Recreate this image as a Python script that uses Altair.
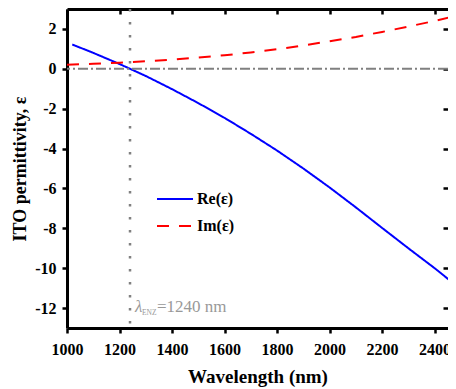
import altair as alt
import pandas as pd

# ---- data ----
wavelength_re = [1020, 1100, 1200, 1300, 1400, 1500, 1600, 1700, 1800, 1900,
                 2000, 2100, 2200, 2300, 2400, 2490]
re_eps = [1.22, 0.80, 0.24, -0.36, -1.02, -1.72, -2.46, -3.26, -4.10, -5.00,
          -5.95, -6.95, -7.98, -9.00, -10.00, -10.95]

wavelength_im = [1000, 1100, 1200, 1300, 1400, 1500, 1600, 1700, 1800, 1900,
                 2000, 2100, 2200, 2300, 2400, 2490]
im_eps = [0.20, 0.25, 0.31, 0.38, 0.46, 0.56, 0.68, 0.82, 0.98, 1.17,
          1.38, 1.60, 1.85, 2.12, 2.40, 2.68]

series_names = ["Re(ε)", "Im(ε)"]
series_colors = ["#0000ff", "#ff0000"]
x_ticks = [1000, 1200, 1400, 1600, 1800, 2000, 2200, 2400]
y_ticks = [-12, -10, -8, -6, -4, -2, 0, 2]
x_domain = [1000, 2451]
y_domain = [-13, 3]
enz_wavelength = 1240
enz_label_y = -12.2

rows = []
for w, v in zip(wavelength_re, re_eps):
    rows.append({"wl": w, "val": v, "series": series_names[0]})
for w, v in zip(wavelength_im, im_eps):
    rows.append({"wl": w, "val": v, "series": series_names[1]})
df = pd.DataFrame(rows)

font = "Liberation Serif, Times New Roman, serif"
x_scale = alt.Scale(domain=x_domain, nice=False, zero=False)
y_scale = alt.Scale(domain=y_domain, nice=False, zero=False)

legend = alt.Legend(
    title=None, orient="none", legendX=89, legendY=171,
    symbolType="stroke", symbolSize=1296, symbolStrokeWidth=2,
    labelFont=font, labelFontWeight="bold", labelFontSize=16, labelColor="black",
    labelOffset=3, rowPadding=-6, padding=0,
)

lines = alt.Chart(df).mark_line(strokeWidth=2, clip=True).encode(
    x=alt.X("wl:Q", scale=x_scale, axis=alt.Axis(
        orient="bottom", values=x_ticks, title="Wavelength (nm)",
        labelExpr="'' + datum.value", grid=False, labelFlush=False,
        domain=True, domainColor="black", domainWidth=3,
        tickSize=5, tickWidth=2.5, tickColor="black",
        labelFont=font, labelFontWeight="bold", labelFontSize=16, labelColor="black",
        labelPadding=8,
        titleFont=font, titleFontWeight="bold", titleFontSize=19, titleColor="black",
        titlePadding=10)),
    y=alt.Y("val:Q", scale=y_scale, axis=alt.Axis(
        orient="left", values=y_ticks, title="ITO permittivity, ε",
        labelExpr="'' + datum.value", grid=False, labelFlush=False,
        domain=True, domainColor="black", domainWidth=3,
        tickSize=5, tickWidth=2.5, tickColor="black",
        labelFont=font, labelFontWeight="bold", labelFontSize=16, labelColor="black",
        labelPadding=6,
        titleFont=font, titleFontWeight="bold", titleFontSize=18, titleColor="black",
        titlePadding=5)),
    color=alt.Color("series:N", scale=alt.Scale(domain=series_names, range=series_colors),
                    legend=legend),
    strokeDash=alt.StrokeDash("series:N",
                              scale=alt.Scale(domain=series_names, range=[[1, 0], [12, 10]]),
                              legend=legend),
)

# vertical ENZ marker, carries the inward top ticks
vline = alt.Chart(pd.DataFrame({"x": [enz_wavelength]})).mark_rule(
    color="#808080", strokeWidth=2.5, strokeDash=[2.5, 10.5]
).encode(
    x=alt.X("x:Q", scale=x_scale, axis=alt.Axis(
        orient="top", values=x_ticks, labels=False, title=None, domain=False,
        grid=False, tickSize=5, tickWidth=2.5, tickColor="black", offset=-5)),
)

# zero line, carries the inward right ticks
hline = alt.Chart(pd.DataFrame({"y": [0]})).mark_rule(
    color="#808080", strokeWidth=2, strokeDash=[10, 3, 2, 3]
).encode(
    y=alt.Y("y:Q", scale=y_scale, axis=alt.Axis(
        orient="right", values=y_ticks, labels=False, title=None, domain=False,
        grid=False, tickSize=5, tickWidth=2.5, tickColor="black", offset=-5)),
)

ann_df = pd.DataFrame({"x": [enz_wavelength], "y": [enz_label_y],
                       "lam": ["λ"], "sub": ["ENZ"], "rest": [f"={enz_wavelength} nm"]})
# first annotation part carries the top frame line
t_lam = alt.Chart(ann_df).mark_text(
    align="left", baseline="alphabetic", dx=5, font=font,
    fontStyle="italic", fontSize=17, color="#999999"
).encode(
    x=alt.X("x:Q", scale=x_scale, axis=alt.Axis(
        orient="top", labels=False, ticks=False, title=None, grid=False,
        domain=True, domainColor="black", domainWidth=3)),
    y=alt.Y("y:Q", scale=y_scale, axis=None),
    text="lam:N",
)
ann_base = alt.Chart(ann_df).encode(
    x=alt.X("x:Q", scale=x_scale, axis=None),
    y=alt.Y("y:Q", scale=y_scale, axis=None),
)
t_sub = ann_base.mark_text(align="left", baseline="alphabetic", dx=12, dy=3, font=font,
                           fontSize=7.5, color="#999999").encode(text="sub:N")
t_rest = ann_base.mark_text(align="left", baseline="alphabetic", dx=27, font=font,
                            fontSize=17, color="#999999").encode(text="rest:N")

chart = alt.layer(lines, vline, hline, t_lam, t_sub, t_rest).properties(
    width=381, height=319,
    autosize=alt.AutoSizeParams(type="none"),
    padding={"left": 59, "top": 1, "right": 0, "bottom": 62},
).configure_view(stroke=None)

chart.save("out.html", embed_options={"renderer": "svg", "actions": False})
